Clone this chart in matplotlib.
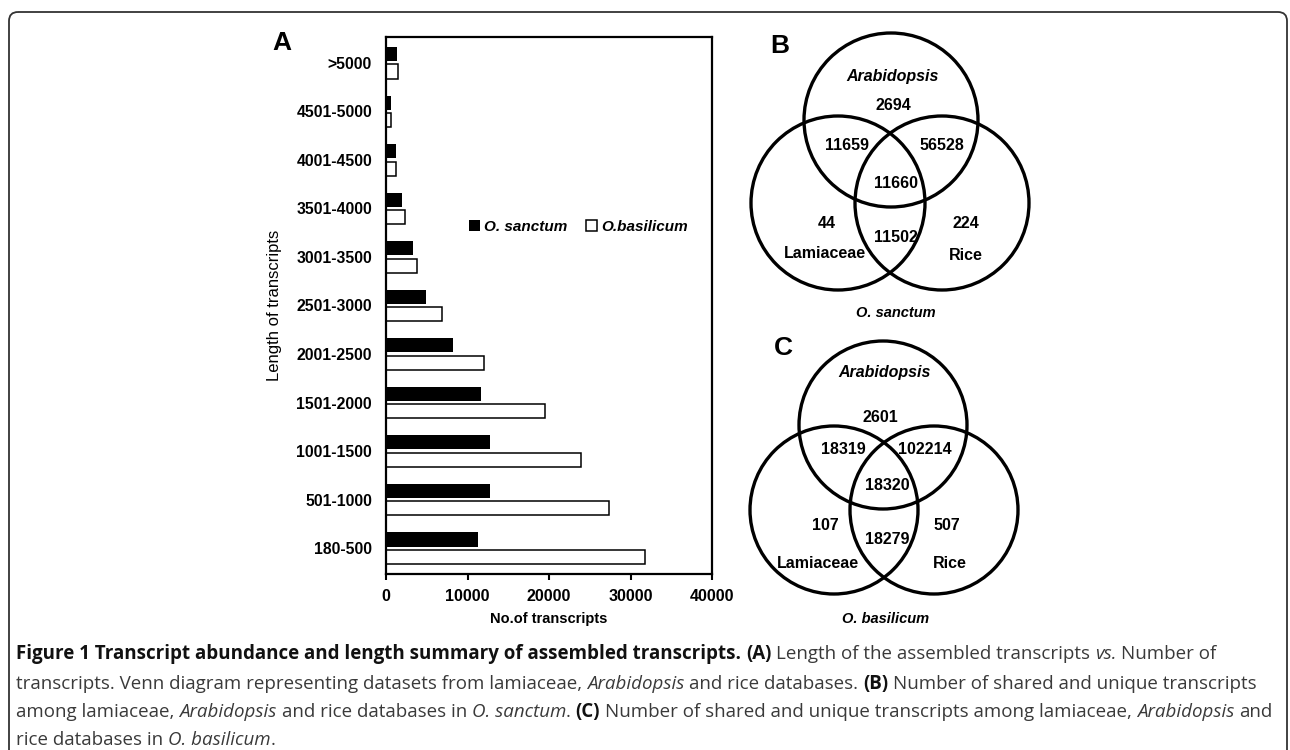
import matplotlib
matplotlib.use("Agg")
import numpy as np
from matplotlib import pyplot as plt
from matplotlib.patches import Circle, FancyBboxPatch

plt.rcParams['font.family'] = ['Liberation Sans', 'DejaVu Sans']

# data for panel A (bottom to top)
length_bins = ["180-500", "501-1000", "1001-1500", "1501-2000", "2001-2500", "2501-3000",
               "3001-3500", "3501-4000", "4001-4500", "4501-5000", ">5000"]
sanctum = [11280, 12750, 12750, 11690, 8160, 4960, 3320, 1970, 1270, 650, 1310]
basilicum = [31820, 27390, 23950, 19520, 12010, 6850, 3850, 2380, 1230, 590, 1440]
x_ticks = [0, 10000, 20000, 30000, 40000]

# data for venn panels B and C
# order: arab only, arab+lam, arab+rice, all three, lam only, rice only, lam+rice
venn_b = [2694, 11659, 56528, 11660, 44, 224, 11502]
venn_c = [2601, 18319, 102214, 18320, 107, 507, 18279]

fig = plt.figure(figsize=(12.9, 7.5), dpi=100)

# background axes in pixel coordinates
bg = fig.add_axes([0, 0, 1, 1])
bg.set_xlim(0, 1290)
bg.set_ylim(750, 0)
bg.axis('off')
bg.add_patch(FancyBboxPatch((9, 12), 1278, 760, boxstyle="round,pad=0,rounding_size=9",
                            fill=False, ec='#333333', lw=1.3))

# ---- panel A: bar chart ----
ax = fig.add_axes([386/1290, 1-574/750, 326/1290, 537/750])
y = np.arange(len(length_bins))
ax.barh(y+0.18, sanctum, height=0.29, color='black', label='O. sanctum')
ax.barh(y-0.18, basilicum, height=0.29, color='white', edgecolor='black', linewidth=1.1,
        label='O.basilicum')
ax.set_xlim(0, 40000)
ax.set_ylim(-0.53, len(length_bins)-0.47)
ax.set_xticks(x_ticks)
ax.set_xticklabels([str(t) for t in x_ticks], fontweight='bold', fontsize=11.5)
ax.set_yticks(y)
ax.set_yticklabels(length_bins, fontweight='bold', fontsize=11.3)
ax.tick_params(axis='y', length=0, pad=10)
ax.tick_params(axis='x', length=4, width=1.5, direction='out', pad=7)
for s in ax.spines.values():
    s.set_linewidth(1.6)
ax.set_xlabel("No.of transcripts", fontweight='bold', fontsize=10.5)
ax.xaxis.set_label_coords(0.5, -0.07)
ax.set_ylabel("Length of transcripts", fontsize=12)
ax.yaxis.set_label_coords(-0.318, 0.5)
ax.legend(loc='center', bbox_to_anchor=(0.59, 0.647), ncol=2, frameon=False,
          prop={'weight': 'bold', 'style': 'italic', 'size': 11},
          handlelength=0.7, handleheight=0.7, handletextpad=0.3, columnspacing=1.2)
bg.text(282, 43, "A", fontsize=19, fontweight='bold', ha='center', va='center')


# ---- panels B and C: venn diagrams ----
def draw_venn(letter, counts, title, circles, r, pos):
    for c in circles:
        bg.add_patch(Circle(c, r, fill=False, ec='black', lw=2.4))
    bg.text(pos['letter'][0], pos['letter'][1], letter, fontsize=19, fontweight='bold',
            ha='center', va='center')
    bg.text(pos['arab'][0], pos['arab'][1], "Arabidopsis", fontsize=11.5, fontweight='bold',
            style='italic', ha='center', va='center')
    bg.text(pos['lam'][0], pos['lam'][1], "Lamiaceae", fontsize=11.5, fontweight='bold',
            ha='center', va='center')
    bg.text(pos['rice'][0], pos['rice'][1], "Rice", fontsize=11.5, fontweight='bold',
            ha='center', va='center')
    bg.text(pos['title'][0], pos['title'][1], title, fontsize=10.5, fontweight='bold',
            style='italic', ha='center', va='center')
    for n, p in zip(counts, pos['counts']):
        bg.text(p[0], p[1], str(n), fontsize=11.5, fontweight='bold', ha='center', va='center')


pos_b = {'letter': (780, 46), 'arab': (893, 77), 'lam': (825, 253), 'rice': (966, 256),
         'title': (896, 313),
         'counts': [(893, 106), (847, 146), (942, 146), (896, 183), (827, 223), (966, 223),
                    (896, 237)]}
draw_venn("B", venn_b, "O. sanctum", [(891, 120), (838, 203), (942, 203)], 87, pos_b)

pos_c = {'letter': (783, 348), 'arab': (885, 373), 'lam': (818, 563), 'rice': (950, 563),
         'title': (886, 619),
         'counts': [(880, 417), (843, 449), (925, 449), (887, 485), (825, 525), (947, 525),
                    (887, 540)]}
draw_venn("C", venn_c, "O. basilicum", [(883, 425), (834, 510), (934, 510)], 84, pos_c)

# ---- caption ----
caption = [
    [("Figure 1 Transcript abundance and length summary of assembled transcripts. ", 'b'),
     ("(A)", 'b'), (" Length of the assembled transcripts ", 'r'), ("vs.", 'i'),
     (" Number of", 'r')],
    [("transcripts. Venn diagram representing datasets from lamiaceae, ", 'r'),
     ("Arabidopsis", 'i'), (" and rice databases. ", 'r'), ("(B)", 'b'),
     (" Number of shared and unique transcripts", 'r')],
    [("among lamiaceae, ", 'r'), ("Arabidopsis", 'i'), (" and rice databases in ", 'r'),
     ("O. sanctum", 'i'), (". ", 'r'), ("(C)", 'b'),
     (" Number of shared and unique transcripts among lamiaceae, ", 'r'),
     ("Arabidopsis", 'i'), (" and", 'r')],
    [("rice databases in ", 'r'), ("O. basilicum", 'i'), (".", 'r')],
]
baselines = [659, 689, 717, 745]

fig.canvas.draw()
renderer = fig.canvas.get_renderer()


def style_kw(st):
    if st == 'b':
        return dict(fontweight='bold', color='#111111')
    if st == 'i':
        return dict(style='italic', color='#3a3a3a')
    return dict(color='#3a3a3a')


def text_width(s, size, st):
    t = bg.text(0, 0, s, fontsize=size, family=['Open Sans', 'DejaVu Sans'], **style_kw(st))
    w = t.get_window_extent(renderer).width
    t.remove()
    return w


def draw_line(runs, x, yb, size, draw=True):
    sp = text_width("a a", size, 'r') - text_width("aa", size, 'r')
    for s, st in runs:
        core = s.strip()
        lead = len(s) - len(s.lstrip())
        trail = len(s) - len(s.rstrip())
        x += lead*sp
        if core:
            if draw:
                bg.text(x, yb, core, fontsize=size, family=['Open Sans', 'DejaVu Sans'],
                        ha='left', va='baseline', **style_kw(st))
            x += text_width(core, size, st)
        x += trail*sp
    return x


# fit caption size so that line 3 ends where it does in the figure
cap_size = 12
end = draw_line(caption[2], 16, 0, cap_size, draw=False)
cap_size = cap_size*(1268-16)/(end-16)
for runs, yb in zip(caption, baselines):
    draw_line(runs, 16, yb, cap_size)

fig.savefig("out.png", dpi=100)
